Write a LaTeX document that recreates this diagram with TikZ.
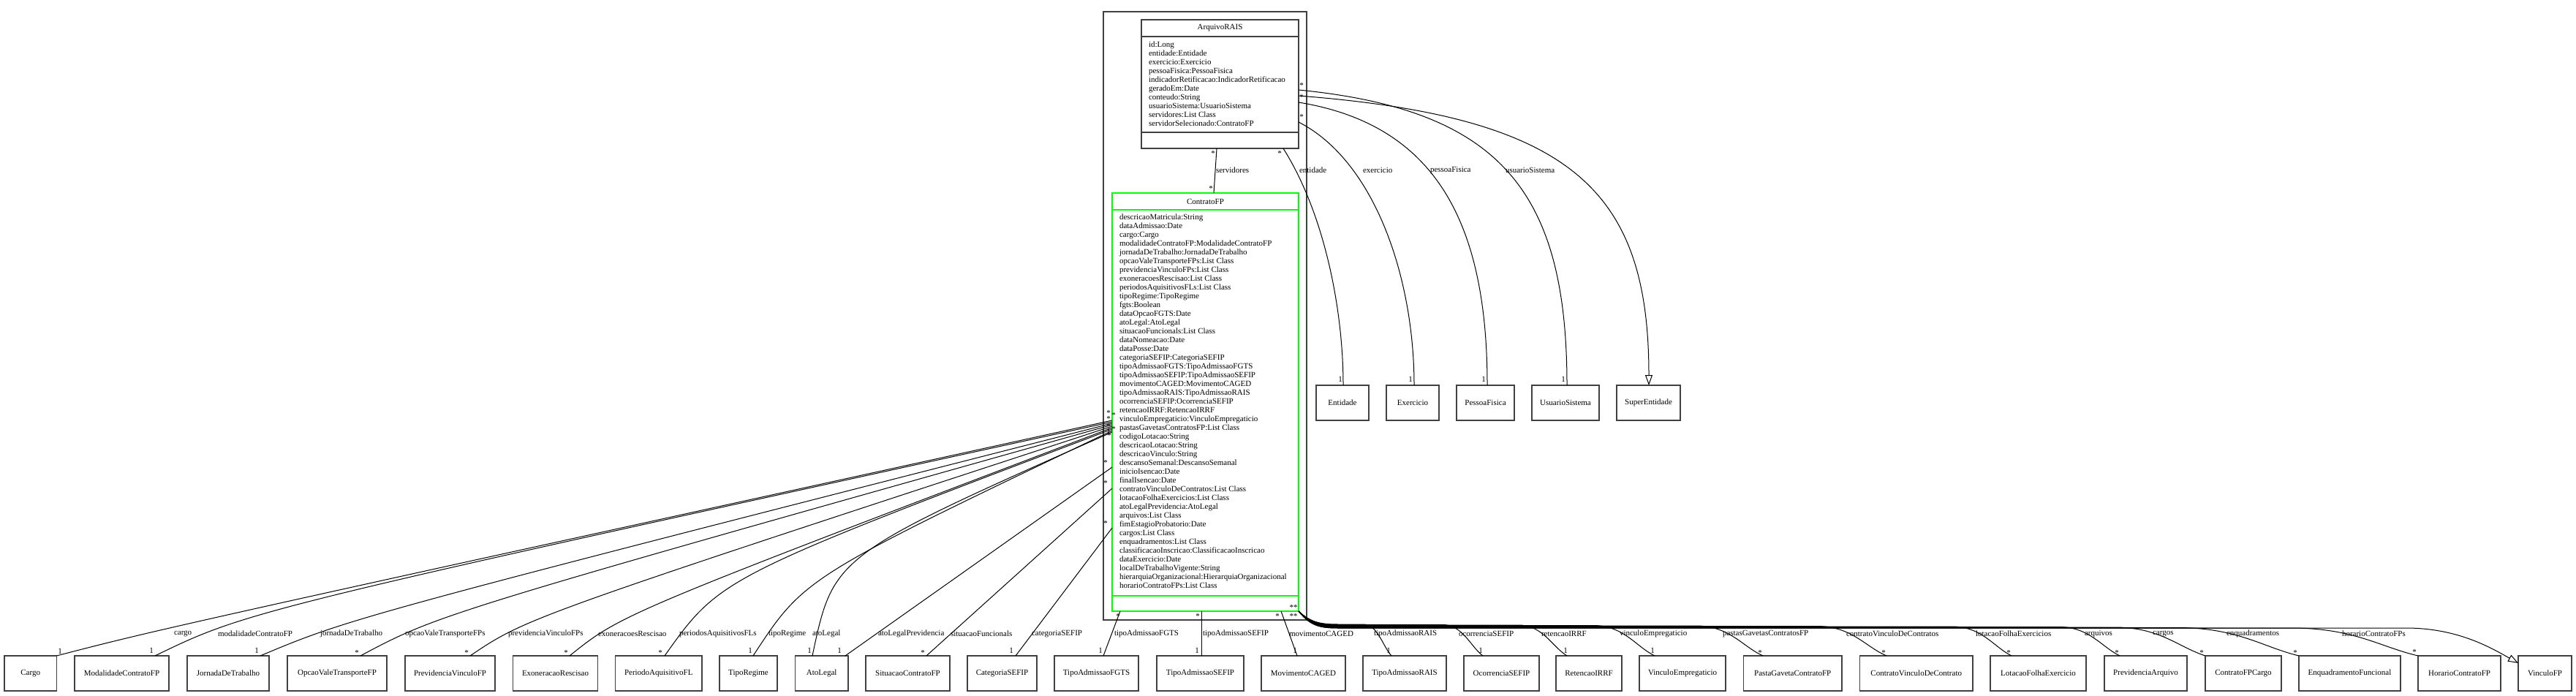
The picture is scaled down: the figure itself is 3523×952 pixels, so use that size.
\documentclass[tikz,border=0pt]{standalone}
\usepackage{fontspec}
\setmainfont{Liberation Serif}
\usetikzlibrary{arrows.meta}
\definecolor{bgray}{RGB}{64,64,64}
\definecolor{umlgreen}{RGB}{0,255,0}
\begin{document}
\begin{tikzpicture}[x=1pt,y=-1pt,
  every node/.style={font=\fontsize{11}{12}\selectfont, inner sep=0pt, outer sep=0pt},
  cbox/.style={draw=bgray, line width=1.5pt, fill=white, minimum height=48pt, anchor=north west},
  conn/.style={draw=black, line width=1pt},
  lbl/.style={anchor=west},
  gen/.style={-{Triangle[open,length=14pt,width=10pt]}}]
\useasboundingbox (0,0) rectangle (3523,952);
\fill[white] (0,0) rectangle (3523,952);

% package frame
\draw[bgray, line width=1.5pt] (1509,16) rectangle (1787,848);

% ArquivoRAIS
\node[cbox, minimum width=215pt, minimum height=176pt] (arq) at (1561,27) {};
\draw[bgray, line width=1.5pt] (1561,50) -- (1776,50) (1561,181) -- (1776,181);
\node (arqname) at (1668.5,38) {ArquivoRAIS};
\node[anchor=north west, align=left] (arqattr) at (1571,57) {id:Long\\entidade:Entidade\\exercicio:Exercicio\\pessoaFisica:PessoaFisica\\indicadorRetificacao:IndicadorRetificacao\\geradoEm:Date\\conteudo:String\\usuarioSistema:UsuarioSistema\\servidores:List Class\\servidorSelecionado:ContratoFP};

% ContratoFP
\node[draw=umlgreen, line width=2.5pt, minimum width=255pt, minimum height=572pt, anchor=north west] (cfp) at (1521,264) {};
\draw[umlgreen, line width=2.5pt] (1521,287) -- (1776,287) (1521,815) -- (1776,815);
\node (cfpname) at (1648.5,276) {ContratoFP};
\node[anchor=north west, align=left] (cfpattr) at (1531,293) {descricaoMatricula:String\\dataAdmissao:Date\\cargo:Cargo\\modalidadeContratoFP:ModalidadeContratoFP\\jornadaDeTrabalho:JornadaDeTrabalho\\opcaoValeTransporteFPs:List Class\\previdenciaVinculoFPs:List Class\\exoneracoesRescisao:List Class\\periodosAquisitivosFLs:List Class\\tipoRegime:TipoRegime\\fgts:Boolean\\dataOpcaoFGTS:Date\\atoLegal:AtoLegal\\situacaoFuncionals:List Class\\dataNomeacao:Date\\dataPosse:Date\\categoriaSEFIP:CategoriaSEFIP\\tipoAdmissaoFGTS:TipoAdmissaoFGTS\\tipoAdmissaoSEFIP:TipoAdmissaoSEFIP\\movimentoCAGED:MovimentoCAGED\\tipoAdmissaoRAIS:TipoAdmissaoRAIS\\ocorrenciaSEFIP:OcorrenciaSEFIP\\retencaoIRRF:RetencaoIRRF\\vinculoEmpregaticio:VinculoEmpregaticio\\pastasGavetasContratosFP:List Class\\codigoLotacao:String\\descricaoLotacao:String\\descricaoVinculo:String\\descansoSemanal:DescansoSemanal\\inicioIsencao:Date\\finalIsencao:Date\\contratoVinculoDeContratos:List Class\\lotacaoFolhaExercicios:List Class\\atoLegalPrevidencia:AtoLegal\\arquivos:List Class\\fimEstagioProbatorio:Date\\cargos:List Class\\enquadramentos:List Class\\classificacaoInscricao:ClassificacaoInscricao\\dataExercicio:Date\\localDeTrabalhoVigente:String\\hierarquiaOrganizacional:HierarquiaOrganizacional\\horarioContratoFPs:List Class};

% top right classes
\node[cbox, minimum width=72pt] (bent) at (1800,527) {Entidade};
\node[cbox, minimum width=72pt] (bexe) at (1896,527) {Exercicio};
\node[cbox, minimum width=79pt] (bpes) at (1992,527) {PessoaFisica};
\node[cbox, minimum width=92pt] (busu) at (2095,527) {UsuarioSistema};
\node[cbox, minimum width=87pt] (bsup) at (2211,527) {SuperEntidade};

% bottom classes
\node[cbox, minimum width=71.5pt] (bcargo) at (6,897) {Cargo};
\node[cbox, minimum width=129pt] (bmod) at (102,897) {ModalidadeContratoFP};
\node[cbox, minimum width=112pt] (bjor) at (256,897) {JornadaDeTrabalho};
\node[cbox, minimum width=136pt] (bopc) at (393,897) {OpcaoValeTransporteFP};
\node[cbox, minimum width=123pt] (bprv) at (554,897) {PrevidenciaVinculoFP};
\node[cbox, minimum width=116pt] (bexo) at (701.5,897) {ExoneracaoRescisao};
\node[cbox, minimum width=118.5pt] (bper) at (841.5,897) {PeriodoAquisitivoFL};
\node[cbox, minimum width=79pt] (breg) at (984,897) {TipoRegime};
\node[cbox, minimum width=72.5pt] (bato) at (1087.5,897) {AtoLegal};
\node[cbox, minimum width=115pt] (bsit) at (1184,897) {SituacaoContratoFP};
\node[cbox, minimum width=95pt] (bcat) at (1323,897) {CategoriaSEFIP};
\node[cbox, minimum width=115pt] (bfgt) at (1442,897) {TipoAdmissaoFGTS};
\node[cbox, minimum width=119pt] (bsef) at (1582,897) {TipoAdmissaoSEFIP};
\node[cbox, minimum width=115pt] (bcag) at (1725,897) {MovimentoCAGED};
\node[cbox, minimum width=114pt] (brai) at (1864,897) {TipoAdmissaoRAIS};
\node[cbox, minimum width=103pt] (bocs) at (2002,897) {OcorrenciaSEFIP};
\node[cbox, minimum width=90pt] (birr) at (2128,897) {RetencaoIRRF};
\node[cbox, minimum width=118pt] (bvem) at (2242,897) {VinculoEmpregaticio};
\node[cbox, minimum width=134.5pt] (bpgc) at (2384.5,897) {PastaGavetaContratoFP};
\node[cbox, minimum width=154.5pt] (bcvc) at (2543.5,897) {ContratoVinculoDeContrato};
\node[cbox, minimum width=131pt] (blfe) at (2722,897) {LotacaoFolhaExercicio};
\node[cbox, minimum width=113pt] (bpar) at (2878,897) {PrevidenciaArquivo};
\node[cbox, minimum width=104pt] (bcfc) at (3016,897) {ContratoFPCargo};
\node[cbox, minimum width=139pt] (benq) at (3144,897) {EnquadramentoFuncional};
\node[cbox, minimum width=113pt] (bhor) at (3307,897) {HorarioContratoFP};
\node[cbox, minimum width=73pt] (bvfp) at (3444,897) {VinculoFP};

% ArquivoRAIS connectors
\draw[conn] ([xshift=103pt]arq.south west) -- ([xshift=139pt]cfp.north west);
\draw[conn] ([xshift=194pt]arq.south west) .. controls (1810,290) and (1837,420) .. ([xshift=37pt]bent.north west);
\draw[conn] ([yshift=-140pt]arq.north east) .. controls (1880,220) and (1934,380) .. ([xshift=38pt]bexe.north west);
\draw[conn] ([yshift=-113pt]arq.north east) .. controls (1960,170) and (2034,300) .. ([xshift=42pt]bpes.north west);
\draw[conn] ([yshift=-96pt]arq.north east) .. controls (2050,150) and (2143,260) .. ([xshift=48pt]busu.north west);
\draw[conn, gen] ([yshift=-104pt]arq.north east) .. controls (2150,160) and (2255,260) .. ([xshift=44pt]bsup.north west);

\node[lbl] (lserv) at (1663,233) {servidores};
\node[lbl] (lent) at (1777,233) {entidade};
\node[lbl] (lexe) at (1864,233) {exercicio};
\node[lbl] (lpes) at (1956,233) {pessoaFisica};
\node[lbl] (lusu) at (2059,233) {usuarioSistema};

\node (ma1) at (1659,210) {*};
\node (ma2) at (1656,258) {*};
\node (ma3) at (1750,210) {*};
\node (ma4) at (1833,519) {1};
\node (ma5) at (1780,160) {*};
\node (ma6) at (1929,519) {1};
\node (ma7) at (1780,133) {*};
\node (ma8) at (2029,519) {1};
\node (ma9) at (1780,117) {*};
\node (ma10) at (2138,519) {1};

% left bundle connectors
\draw[conn] (bcargo.north east) .. controls (220,860) .. ([yshift=-311pt]cfp.north west);
\draw[conn] ([xshift=110pt]bmod.north west) .. controls (340,835) .. ([yshift=-313pt]cfp.north west);
\draw[conn] ([xshift=100pt]bjor.north west) .. controls (480,845) .. ([yshift=-315pt]cfp.north west);
\draw[conn] ([xshift=100pt]bopc.north west) .. controls (600,840) .. ([yshift=-317pt]cfp.north west);
\draw[conn] ([xshift=89pt]bprv.north west) .. controls (720,845) .. ([yshift=-319pt]cfp.north west);
\draw[conn] ([xshift=77.5pt]bexo.north west) .. controls (850,840) .. ([yshift=-321pt]cfp.north west);
\draw[conn] ([xshift=67.5pt]bper.north west) .. controls (985,790) .. ([yshift=-323pt]cfp.north west);
\draw[conn] ([xshift=46pt]breg.north west) .. controls (1100,790) .. ([yshift=-325pt]cfp.north west);
\draw[conn] ([xshift=23.5pt]bato.north west) .. controls (1140,760) .. ([yshift=-327pt]cfp.north west);
\draw[conn] ([xshift=68.5pt]bato.north west) -- ([yshift=-375pt]cfp.north west);
\draw[conn] ([xshift=83pt]bsit.north west) -- ([yshift=-404pt]cfp.north west);
\draw[conn] ([xshift=66pt]bcat.north west) -- ([yshift=-458pt]cfp.north west);
\draw[conn] ([xshift=67pt]bfgt.north west) -- ([xshift=11pt]cfp.south west);
\draw[conn] ([xshift=61pt]bsef.north west) -- ([xshift=122pt]cfp.south west);
\draw[conn] ([xshift=49pt]bcag.north west) -- ([xshift=231pt]cfp.south west);

% right fan connectors
\draw[conn] (cfp.south east) .. controls (1792,851) and (1805,854) .. (1830,854) -- (1865,854) .. controls (1884,854) and (1891.6,885) .. ([xshift=39pt]brai.north west);
\draw[conn] (cfp.south east) .. controls (1792,851) and (1805,854.5) .. (1830,854.5) -- (1973,854.5) .. controls (2000.5,854.5) and (2011.5,885) .. ([xshift=26pt]bocs.north west);
\draw[conn] (cfp.south east) .. controls (1792,852) and (1805,855) .. (1830,855) -- (2077,855) .. controls (2110,855) and (2123.2,885) .. ([xshift=15pt]birr.north west);
\draw[conn] (cfp.south east) .. controls (1792,852) and (1805,855.5) .. (1830,855.5) -- (2179,855.5) .. controls (2221,855.5) and (2237.8,885) .. ([xshift=21pt]bvem.north west);
\draw[conn] (cfp.south east) .. controls (1792,853) and (1805,856) .. (1830,856) -- (2320,856) .. controls (2365.5,856) and (2383.7,885) .. ([xshift=26.5pt]bpgc.north west);
\draw[conn] (cfp.south east) .. controls (1792,853) and (1805,856.5) .. (1830,856.5) -- (2485,856.5) .. controls (2532.5,856.5) and (2551.5,885) .. ([xshift=36.5pt]bcvc.north west);
\draw[conn] (cfp.south east) .. controls (1792,854) and (1805,857) .. (1830,857) -- (2670,857) .. controls (2710.5,857) and (2726.7,885) .. ([xshift=29pt]blfe.north west);
\draw[conn] (cfp.south east) .. controls (1792,854) and (1805,857.5) .. (1830,857.5) -- (2816,857.5) .. controls (2857.5,857.5) and (2874.1,885) .. ([xshift=21pt]bpar.north west);
\draw[conn] (cfp.south east) .. controls (1792,855) and (1805,858) .. (1830,858) -- (2892,858) .. controls (2954,858) and (2978.8,885) .. (bcfc.north west);
\draw[conn] (cfp.south east) .. controls (1792,855) and (1805,858.5) .. (1830,858.5) -- (2977,858.5) .. controls (3060.5,858.5) and (3093.9,885) .. (benq.north west);
\draw[conn] (cfp.south east) .. controls (1792,856) and (1805,859) .. (1830,859) -- (3133,859) .. controls (3220,859) and (3254.8,885) .. (bhor.north west);
\draw[conn, gen] (cfp.south east) .. controls (1792,856) and (1805,859) .. (1830,859) -- (3290,859) .. controls (3360,859) and (3405,885) .. ([yshift=-10pt]bvfp.north west);

% bottom labels
\node[lbl] (l1) at (238,867) {cargo};
\node[lbl] (l2) at (298,867) {modalidadeContratoFP};
\node[lbl] (l3) at (438,867) {jornadaDeTrabalho};
\node[lbl] (l4) at (554,867) {opcaoValeTransporteFPs};
\node[lbl] (l5) at (695,867) {previdenciaVinculoFPs};
\node[lbl] (l6) at (818,867) {exoneracoesRescisao};
\node[lbl] (l7) at (929,867) {periodosAquisitivosFLs};
\node[lbl] (l8) at (1051,867) {tipoRegime};
\node[lbl] (l9) at (1111,867) {atoLegal};
\node[lbl] (l10) at (1201,867) {atoLegalPrevidencia};
\node[lbl] (l11) at (1300,867) {situacaoFuncionals};
\node[lbl] (l12) at (1411,867) {categoriaSEFIP};
\node[lbl] (l13) at (1524,867) {tipoAdmissaoFGTS};
\node[lbl] (l14) at (1645,867) {tipoAdmissaoSEFIP};
\node[lbl] (l15) at (1763,867) {movimentoCAGED};
\node[lbl] (l16) at (1879,867) {tipoAdmissaoRAIS};
\node[lbl] (l17) at (1995,867) {ocorrenciaSEFIP};
\node[lbl] (l18) at (2108,867) {retencaoIRRF};
\node[lbl] (l19) at (2215,867) {vinculoEmpregaticio};
\node[lbl] (l20) at (2356,867) {pastasGavetasContratosFP};
\node[lbl] (l21) at (2525,867) {contratoVinculoDeContratos};
\node[lbl] (l22) at (2702,867) {lotacaoFolhaExercicios};
\node[lbl] (l23) at (2851,867) {arquivos};
\node[lbl] (l24) at (2944,867) {cargos};
\node[lbl] (l25) at (3045,867) {enquadramentos};
\node[lbl] (l26) at (3203,867) {horarioContratoFPs};

% bottom multiplicities
\node (mb1) at (82,891) {1};
\node (mb2) at (207,890) {1};
\node (mb3) at (351,890) {1};
\node (mb4) at (488,893) {*};
\node (mb5) at (638,893) {*};
\node (mb6) at (774,893) {*};
\node (mb7) at (903,893) {*};
\node (mb8) at (1026,890) {1};
\node (mb9) at (1107,890) {1};
\node (mb10) at (1148,890) {1};
\node (mb11) at (1262,893) {*};
\node (mb12) at (1383,890) {1};
\node (mb13) at (1505,890) {1};
\node (mb14) at (1637,890) {1};
\node (mb15) at (1771,890) {1};
\node (mb16) at (1899,890) {1};
\node (mb17) at (2025,890) {1};
\node (mb18) at (2141,890) {1};
\node (mb19) at (2260,890) {1};
\node (mb20) at (2407,893) {*};
\node (mb21) at (2576,893) {*};
\node (mb22) at (2747,893) {*};
\node (mb23) at (2895,893) {*};
\node (mb24) at (3011,893) {*};
\node (mb25) at (3139,893) {*};
\node (mb26) at (3302,892) {*};

% ContratoFP side multiplicities
\node (mc1) at (1516,565) {*};
\node (mc2) at (1523,568) {*};
\node (mc3) at (1516,573) {*};
\node (mc4) at (1516,583) {*};
\node (mc5) at (1523,587) {*};
\node (mc6) at (1516,590) {1};
\node (mc7) at (1517,596) {*};
\node (mc8) at (1512,633) {*};
\node (mc9) at (1512,661) {*};
\node (mc10) at (1512,716) {*};
\node (mc11) at (1529,843) {*};
\node (mc12) at (1638,843) {*};
\node (mc13) at (1747,843) {*};
\node (mc14) at (1769,831) {**};
\node (mc15) at (1769,843) {**};
\end{tikzpicture}
\end{document}
